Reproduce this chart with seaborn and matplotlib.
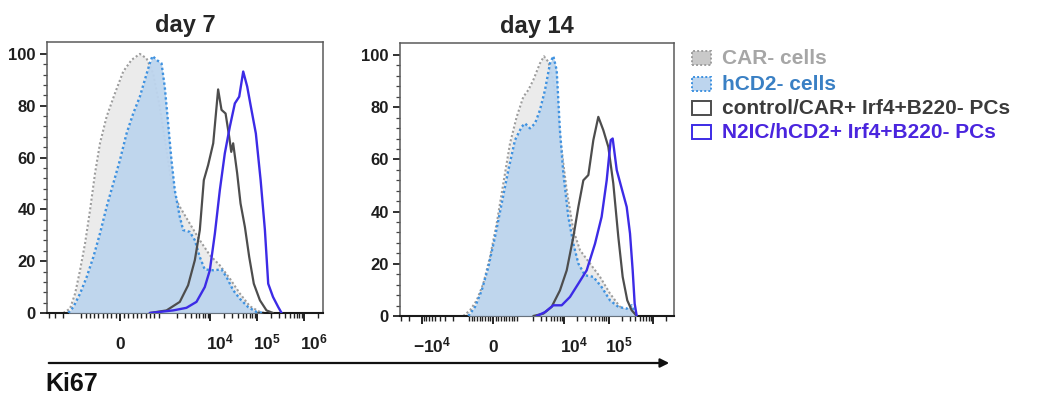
import matplotlib
matplotlib.use("Agg")
import matplotlib.pyplot as plt
import matplotlib.transforms as mtransforms
from matplotlib.patches import Rectangle, FancyArrowPatch
from matplotlib.ticker import FixedLocator
import seaborn as sns

# ---- Ki67 histograms (intensity, % of mode) ----
day7_car_x = [-1.95e3, -1.41e3, -1.10e3, -930, -814, -697, -581, -465, -310, -116,
              77, 272, 465, 620, 775, 930, 1.2e3, 1.66e3, 2.3e3, 3.75e3,
              6.12e3, 1e4, 1.63e4, 2.66e4, 4.35e4, 7.1e4, 1.16e5, 1.6e5]
day7_car_y = [0, 1.7, 7.5, 16.5, 26.8, 39.7, 53.9, 65.5, 75.8, 84.8,
              93.2, 97.7, 100, 98.3, 92.5, 79.6, 62.9, 46.1, 41, 34.5,
              28.1, 22.3, 18.4, 13.3, 7.5, 2.6, 0.4, 0]

day7_hcd2_x = [-1.53e3, -1.2e3, -930, -775, -620, -465, -310, -155, 0, 155,
               310, 465, 581, 697, 760, 853, 970, 1.10e3, 1.30e3, 1.53e3,
               1.80e3, 2.30e3, 2.71e3, 3.75e3, 4.8e3, 6.12e3, 7.8e3, 1.18e4, 1.77e4, 2.26e4,
               3.13e4, 4.35e4, 6.5e4, 9.8e4, 1.4e5]
day7_hcd2_y = [0, 2.3, 7.5, 13.9, 21.6, 30.7, 41, 50, 59, 69.3,
               77, 83.5, 90, 96.4, 99.2, 97.7, 96.4, 87.4, 73.2, 59,
               47.4, 37.1, 32, 31.3, 28.1, 21.6, 16.8, 16.5, 16.8, 13.9,
               8.8, 5.5, 2.3, 0.4, 0]

day7_ctrl_x = [697, 1.2e3, 2.3e3, 3.45e3, 4.8e3, 6.12e3, 7.45e3, 9.2e3, 1.18e4, 1.5e4,
               1.77e4, 2.16e4, 2.58e4, 2.85e4, 3.13e4, 3.81e4, 4.49e4, 5.56e4, 6.87e4, 8.6e4,
               1.16e5, 1.6e5, 2.2e5]
day7_ctrl_y = [0, 1, 4.3, 10.7, 20.4, 32, 51.3, 57.1, 65.5, 86.3,
               78.4, 77, 68, 62.2, 65.5, 53.9, 42.3, 33.2, 21.6, 11.3,
               4.9, 1, 0]

day7_n2ic_x = [697, 1.66e3, 3.18e3, 5.2e3, 7.8e3, 1e4, 1.28e4, 1.63e4, 2.08e4, 2.66e4,
               3.4e4, 4.21e4, 5.12e4, 6.22e4, 7.33e4, 9.5e4, 1.2e5, 1.48e5, 1.74e5, 2.2e5,
               2.84e5, 3.35e5]
day7_n2ic_y = [0, 1, 2, 4.3, 10, 16.5, 30.7, 47.4, 61.6, 71.9,
               80.9, 83.5, 93.2, 87.4, 80.3, 69.3, 51.3, 32, 11.3, 6.2,
               2.3, 0]

day14_car_x = [-1.18e3, -867, -615, -365, -113, 138, 389, 641, 893, 1.22e3,
               1.58e3, 2.04e3, 2.88e3, 3.55e3, 4.43e3, 5.75e3, 8.1e3, 1.15e4, 1.62e4, 2.29e4,
               3.84e4, 6.43e4, 1.08e5, 1.81e5, 3.04e5, 3.9e5]
day14_car_y = [0, 2.2, 6, 12.4, 22.6, 35.4, 50.8, 66.1, 76.3, 84,
               86.6, 90.4, 96.8, 99.5, 97.4, 90.4, 68.7, 48.2, 32.9, 25.2,
               20.1, 15, 8.6, 3.5, 0.9, 0]

day14_hcd2_x = [-931, -678, -426, -176, 75, 327, 579, 829, 1.12e3, 1.33e3,
                1.72e3, 2.23e3, 2.88e3, 3.74e3, 4.84e3, 5.75e3, 6.84e3, 8.1e3, 9.66e3, 1.25e4,
                1.62e4, 2.1e4, 2.96e4, 4.56e4, 7.0e4, 1.08e5, 1.66e5, 2.56e5, 3.31e5, 4.3e5]
day14_hcd2_y = [0, 3.5, 9.8, 18.8, 30.3, 43.1, 55.9, 67.4, 72.5, 73.8,
                71.9, 73.8, 78.9, 86.6, 96.8, 99.6, 94.2, 71.2, 54.6, 38,
                27.7, 20.1, 15.6, 15, 11.1, 6, 3.5, 2.8, 4.1, 0]

day14_ctrl_x = [2.04e3, 3.43e3, 5.27e3, 8.1e3, 1.15e4, 1.62e4, 2.1e4, 2.72e4, 3.52e4, 4.56e4,
                5.9e4, 7.64e4, 9.9e4, 1.28e5, 1.66e5, 2.08e5, 2.64e5, 3.31e5, 4.3e5]
day14_ctrl_y = [0, 0.9, 3.5, 9.8, 17.5, 30.3, 41.8, 52, 54, 67.4,
                76.3, 71.2, 64.8, 50.8, 30.3, 15, 6, 2.2, 0]

day14_n2ic_x = [2.43e3, 3.74e3, 5.75e3, 8.87e3, 1.36e4, 2.1e4, 3.23e4, 4.97e4, 7.0e4, 9.1e4,
                1.12e5, 1.24e5, 1.53e5, 1.98e5, 2.56e5, 3.04e5, 3.49e5, 3.87e5, 4.3e5]
day14_n2ic_y = [0, 1.5, 4.1, 4.1, 7.3, 12.4, 17.5, 27.7, 38, 52,
                67.4, 68, 55.9, 48.8, 41.8, 31.6, 17.5, 4.7, 0]

panel_titles = ["day 7", "day 14"]
legend_labels = ["CAR- cells", "hCD2- cells",
                 "control/CAR+ Irf4+B220- PCs", "N2IC/hCD2+ Irf4+B220- PCs"]
y_ticks = [0, 20, 40, 60, 80, 100]
day7_xticks = [0, 1e4, 1e5, 1e6]
day7_xticklabels = ["0", r"$\mathbf{10^{4}}$", r"$\mathbf{10^{5}}$", r"$\mathbf{10^{6}}$"]
day14_xticks = [-1e4, 0, 1e4, 1e5, 1e6]
day14_xticklabels = [r"$\mathbf{-10^{4}}$", "0", r"$\mathbf{10^{4}}$", r"$\mathbf{10^{5}}$", ""]

# ---- style ----
sns.set_theme(style="ticks")
plt.rcParams["font.family"] = ["Liberation Sans", "DejaVu Sans"]
plt.rcParams.update({
    "mathtext.fontset": "custom",
    "mathtext.rm": "Liberation Sans:bold",
    "mathtext.bf": "Liberation Sans:bold",
    "mathtext.it": "Liberation Sans:bold",
    "mathtext.sf": "Liberation Sans:bold",
})

CAR_FILL, CAR_EDGE, CAR_TEXT = "#ebebeb", "#9d9d9d", "#a6a6a6"
HCD2_FILL, HCD2_EDGE, HCD2_TEXT = "#bdd5ee", "#3f92e0", "#3a80c4"
CTRL_LINE, CTRL_TEXT = "#4d4d4d", "#3b3b3b"
N2IC_LINE, N2IC_TEXT = "#3c2be6", "#4a25de"
DOT = (0, (1.0, 1.1))

W, H = 1039, 394
fig = plt.figure(figsize=(W / 100, H / 100), dpi=100)


def fig_rect(left, top, right, bottom):
    return [left / W, 1 - bottom / H, (right - left) / W, (bottom - top) / H]


def minor_x(lo, hi):
    ticks = [s * k * 100 for s in (-1, 1) for k in range(1, 10)]
    for e in range(3, 7):
        for m in range(1, 10):
            v = m * 10 ** e
            if v > 1e3 or m > 1:
                ticks += [v, -v]
    return [t for t in ticks if lo <= t <= hi and t not in (0,)]


def draw_panel(ax, title, linscale, xlim, curves, xticks, xticklabels):
    ax.set_xscale("symlog", linthresh=1e3, linscale=linscale)
    (cx, cy), (hx, hy), (tx, ty), (nx, ny) = curves

    ax.fill_between(cx, cy, 0, color=CAR_FILL, lw=0, zorder=1)
    sns.lineplot(x=cx, y=cy, ax=ax, color=CAR_EDGE, lw=1.5, linestyle=DOT,
                 sort=False, estimator=None, zorder=2)
    ax.fill_between(hx, hy, 0, color=HCD2_FILL, lw=0, alpha=0.95, zorder=3)
    sns.lineplot(x=hx, y=hy, ax=ax, color=HCD2_EDGE, lw=1.7, linestyle=DOT,
                 sort=False, estimator=None, zorder=4)
    sns.lineplot(x=tx, y=ty, ax=ax, color=CTRL_LINE, lw=1.6,
                 sort=False, estimator=None, zorder=5)
    sns.lineplot(x=nx, y=ny, ax=ax, color=N2IC_LINE, lw=1.7,
                 sort=False, estimator=None, zorder=6)

    ax.set_xlim(*xlim)
    ax.set_ylim(0, 104.6)
    ax.set_xlabel("")
    ax.set_ylabel("")
    ax.set_title(title, fontsize=17, fontweight="bold", pad=7)

    ax.set_yticks(y_ticks)
    ax.set_yticklabels([str(v) for v in y_ticks], fontsize=12, fontweight="bold",
                       color="#1e1e1e")
    ax.yaxis.set_minor_locator(FixedLocator([v for v in range(4, 100, 4) if v % 20]))

    ax.set_xticks(xticks)
    ax.set_xticklabels(xticklabels, fontsize=12.5, fontweight="bold", color="#1e1e1e")
    ax.xaxis.set_minor_locator(FixedLocator(minor_x(*xlim)))

    ax.tick_params(axis="x", which="major", direction="out", length=6, width=1.4,
                   color="#222222", pad=20)
    ax.tick_params(axis="x", which="minor", direction="out", length=3.5, width=1.0,
                   color="#222222")
    ax.tick_params(axis="y", which="major", direction="out", length=5, width=1.3,
                   color="#222222", pad=3)
    ax.tick_params(axis="y", which="minor", direction="out", length=3, width=0.9,
                   color="#444444")
    for side in ("left", "right", "top"):
        ax.spines[side].set_visible(True)
        ax.spines[side].set_color("#5a5a5a")
        ax.spines[side].set_linewidth(1.1)
    ax.spines["bottom"].set_color("#1a1a1a")
    ax.spines["bottom"].set_linewidth(1.5)
    ax.grid(False)
    ax.set_facecolor("white")


ax7 = fig.add_axes(fig_rect(47, 42, 323, 313))
draw_panel(ax7, panel_titles[0], 0.82, (-4.35e3, 2.54e6),
           [(day7_car_x, day7_car_y), (day7_hcd2_x, day7_hcd2_y),
            (day7_ctrl_x, day7_ctrl_y), (day7_n2ic_x, day7_n2ic_y)],
           day7_xticks, day7_xticklabels)

ax14 = fig.add_axes(fig_rect(400, 43, 674, 316))
draw_panel(ax14, panel_titles[1], 0.536, (-3.12e4, 2.96e6),
           [(day14_car_x, day14_car_y), (day14_hcd2_x, day14_hcd2_y),
            (day14_ctrl_x, day14_ctrl_y), (day14_n2ic_x, day14_n2ic_y)],
           day14_xticks, day14_xticklabels)

# ---- legend ----
legend_style = [
    (CAR_FILL, CAR_EDGE, DOT, CAR_TEXT),
    (HCD2_FILL, HCD2_EDGE, DOT, HCD2_TEXT),
    ("white", CTRL_LINE, "-", CTRL_TEXT),
    ("white", N2IC_LINE, "-", N2IC_TEXT),
]
row_y = [58, 84, 108, 132]
for label, (face, edge, ls, tcol), yc in zip(legend_labels, legend_style, row_y):
    fc = "#c9c9c9" if face == CAR_FILL else face
    fig.add_artist(Rectangle((692 / W, 1 - (yc + 7) / H), 19 / W, 14 / H,
                             transform=fig.transFigure, facecolor=fc,
                             edgecolor=edge, linestyle=ls, linewidth=1.4))
    fig.text(722 / W, 1 - yc / H, label, fontsize=15, fontweight="bold",
             color=tcol, va="center", ha="left")

# ---- shared axis arrow and label ----
fig.add_artist(FancyArrowPatch((46 / W, 1 - 363 / H), (672 / W, 1 - 363 / H),
                               transform=fig.transFigure, arrowstyle="-|>",
                               mutation_scale=13, lw=1.6, color="#111111"))
fig.text(45 / W, 1 - 384 / H, "Ki67", fontsize=18, fontweight="bold",
         color="#111111", va="center", ha="left")

# exponent labels sit slightly right of their ticks; all share one baseline
fig.canvas.draw()
shift = mtransforms.ScaledTranslation(10 / 100, 0, fig.dpi_scale_trans)
for ax in (ax7, ax14):
    for lbl in ax.get_xticklabels():
        lbl.set_verticalalignment("baseline")
        if "10" in lbl.get_text():
            lbl.set_transform(lbl.get_transform() + shift)

fig.savefig("out.png", dpi=100, facecolor="white")
